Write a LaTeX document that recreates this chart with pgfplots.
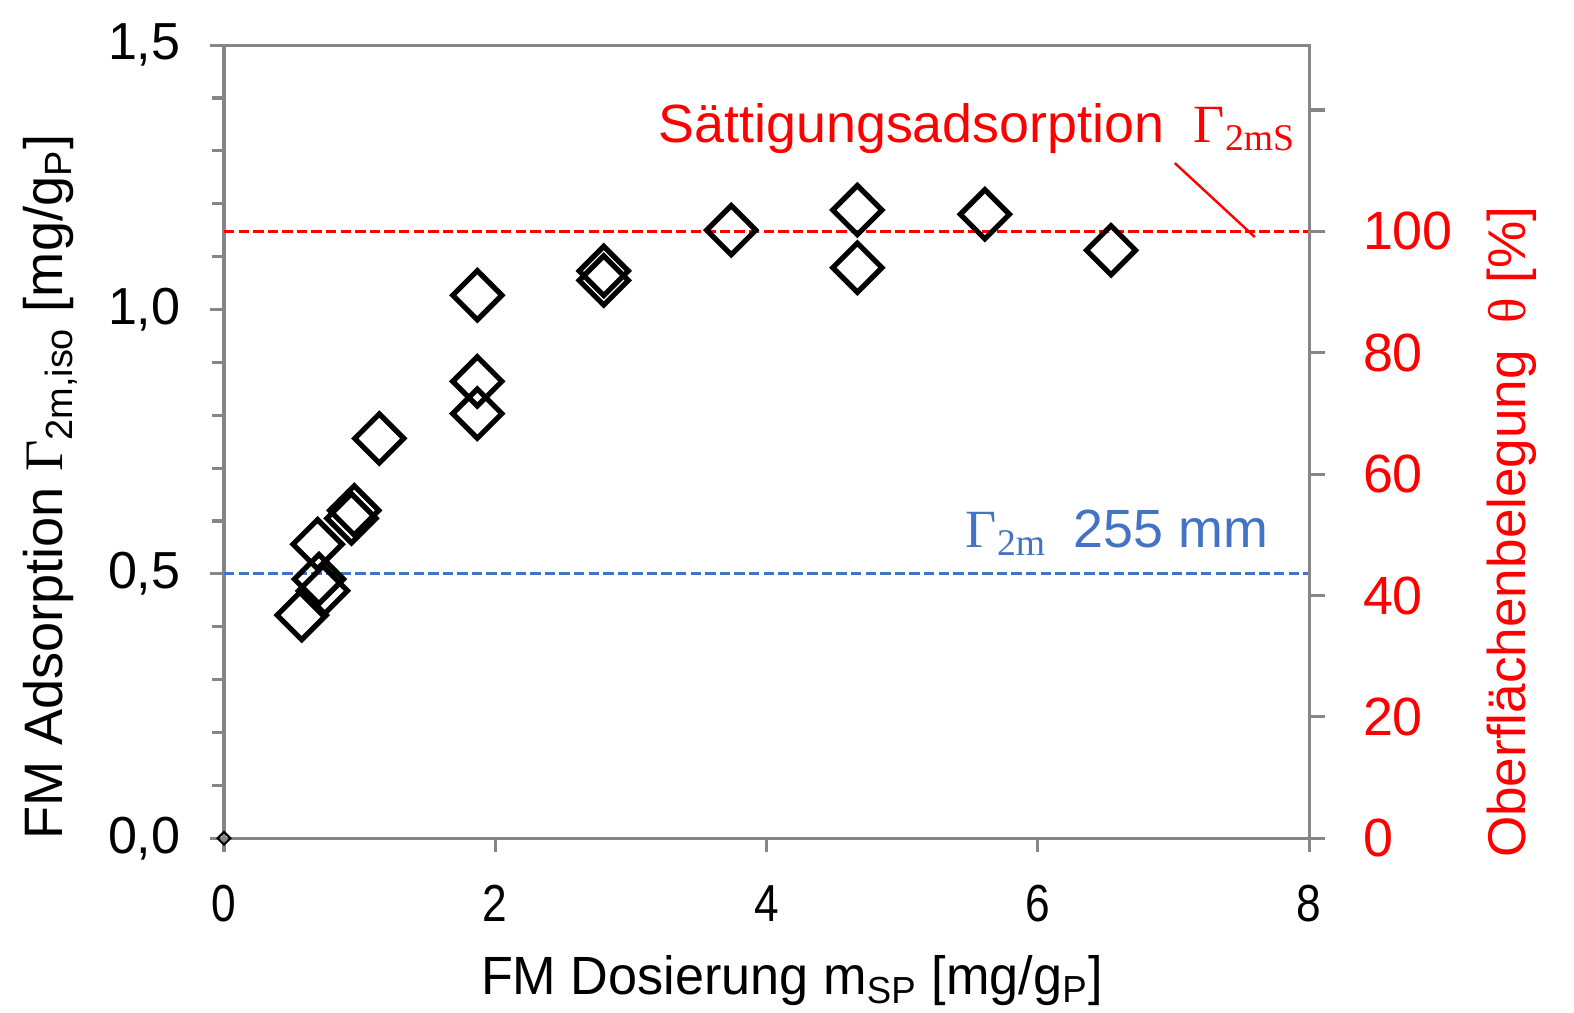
\documentclass[border=0pt]{standalone}
\usepackage{fontspec}
\setmainfont{Liberation Sans}
\newfontfamily\tms{Liberation Serif}
\usepackage{graphicx}
\usepackage{pgfplots}
\pgfplotsset{compat=1.18}
\definecolor{axgray}{RGB}{134,134,134}
\definecolor{lineblue}{RGB}{68,114,196}
\newcommand{\fs}{\fontsize{15}{17}\selectfont}
\newcommand{\fl}{\fontsize{15.6}{18}\selectfont}
\newcommand{\fa}{\fontsize{15.5}{18}\selectfont}

\begin{document}
\begin{tikzpicture}
\path[use as bounding box] (-64.5pt,-50.1pt) rectangle (388.8pt,241.4pt);

\begin{axis}[
  scale only axis, width=312.5pt, height=228.4pt,
  xmin=0, xmax=8, ymin=0, ymax=1.5,
  clip=false,
  axis line style={axgray, line width=0.9pt},
  tick style={axgray, line width=0.9pt},
  tick align=outside,
  major tick length=4pt, minor tick length=3.5pt,
  xtick={0,2,4,6,8}, xtick pos=bottom,
  xticklabel={\scalebox{0.85}[1]{\pgfmathprintnumber[assume math mode=true]{\tick}}},
  xticklabel style={yshift=-6pt},
  ytick={0,0.5,1,1.5}, ytick pos=left,
  minor ytick={0.1,0.2,0.3,0.4,0.6,0.7,0.8,0.9,1.1,1.2,1.3,1.4},
  yticklabel style={xshift=-5pt, /pgf/number format/fixed, /pgf/number format/fixed zerofill,
    /pgf/number format/precision=1, /pgf/number format/use comma,
    /pgf/number format/assume math mode=true},
  tick label style={font=\fs, black},
  xlabel={\scalebox{0.97}[1]{FM Dosierung m\textsubscript{SP} [mg/g\textsubscript{P}]}},
  ylabel={FM Adsorption {\tms Γ}\textsubscript{2m,iso} [mg/g\textsubscript{P}]},
  every axis x label/.style={at={(axis description cs:0.5235,-0.179)}, anchor=center,
    font=\fontsize{15.5}{18}\selectfont, black},
  every axis y label/.style={at={(axis description cs:-0.16,0.443)}, rotate=90, anchor=center,
    font=\fl, black},
]
% saturation line and reference line
\addplot[red, line width=1pt, dash pattern=on 3pt off 1.2pt] coordinates {(0,1.148) (8,1.148)};
\addplot[lineblue, line width=0.8pt, dash pattern=on 3pt off 1.2pt] coordinates {(0,0.5) (8,0.5)};
\addplot[red, line width=0.7pt] coordinates {(7.01,1.277) (7.60,1.137)};

% measured adsorption
\addplot[only marks, mark=square, mark size=5pt,
  mark options={rotate=45, line width=1.5pt, black, solid}] table {
x     y
0.573 0.422
0.70  0.490
0.73  0.468
0.69  0.556
0.94  0.605
0.96  0.620
1.145 0.756
1.868 1.027
1.868 0.864
1.868 0.803
2.80  1.073
2.80  1.055
3.74  1.150
4.67  1.188
4.67  1.079
5.61  1.180
6.54  1.112
};
\addplot[only marks, mark=square, mark size=1.3pt,
  mark options={rotate=45, line width=0.6pt, black, solid}] coordinates {(0,0)};

\node[anchor=base west, red, font=\fa, inner sep=0pt] at (axis cs:3.20,1.315)
  {Sättigungsadsorption\hspace{0.55em}{\tms Γ\textsubscript{2mS}}};
\node[anchor=base west, lineblue, font=\fa, inner sep=0pt] at (axis cs:5.465,0.549)
  {{\tms Γ\textsubscript{2m}}\hspace{0.5em}255 mm};
\end{axis}

\begin{axis}[
  scale only axis, width=312.5pt, height=228.4pt,
  xmin=0, xmax=8, ymin=0, ymax=130.7,
  axis x line=none, axis y line*=right,
  y axis line style={axgray, line width=0.9pt},
  tick style={axgray, line width=0.9pt},
  tick align=outside, major tick length=4.5pt,
  ytick={0,20,40,60,80,100,120},
  yticklabels={0,20,40,60,80,100,},
  yticklabel style={font=\fontsize{15.5}{18}\selectfont, red, xshift=7.5pt,
    /pgf/number format/assume math mode=true},
  ylabel={Oberflächenbelegung\hspace{0.5em}{\tms θ} [\%]},
  every axis y label/.style={at={(axis description cs:1.187,0.386)}, rotate=90, anchor=center,
    font=\fontsize{15.3}{18}\selectfont, red},
]
\addplot[draw=none] coordinates {(0,0)};
\end{axis}
\end{tikzpicture}
\end{document}
